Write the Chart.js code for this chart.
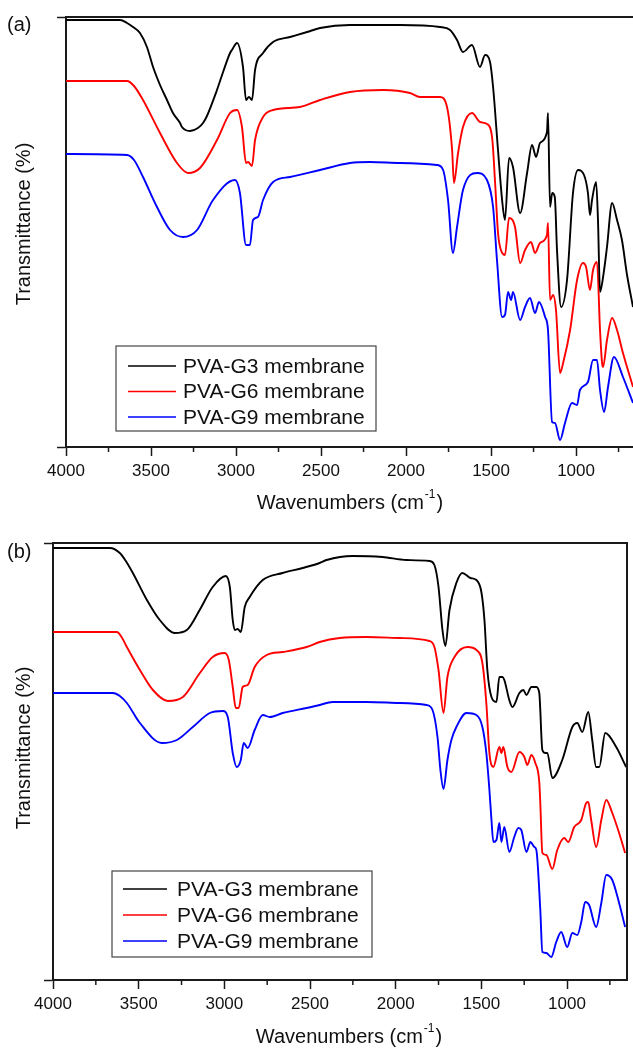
<!DOCTYPE html>
<html><head><meta charset="utf-8">
<script src="https://cdn.jsdelivr.net/npm/chart.js@4"></script>
<style>
html,body{margin:0;padding:0;background:#fff;}
#wrap{position:relative;width:633px;height:1048px;overflow:hidden;}
canvas{position:absolute;left:0;}
</style></head><body>
<div id="wrap">
<canvas id="ca" width="633" height="525" style="top:0px"></canvas>
<canvas id="cb" width="633" height="523" style="top:525px"></canvas>
</div>
<script>
// ---------- data ----------
const seriesNames = ['PVA-G3 membrane', 'PVA-G6 membrane', 'PVA-G9 membrane'];
const seriesColors = ['#000000', '#ff0000', '#0000ff'];
const xTickValues = [4000, 3500, 3000, 2500, 2000, 1500, 1000];
const xMinorTickValues = [3750, 3250, 2750, 2250, 1750, 1250, 750];
const panelLabels = ['(a)', '(b)'];
const yTitle = 'Transmittance (%)';
const xTitleMain = 'Wavenumbers (cm';
const xTitleSup = '-1';
const xTitleEnd = ')';

// panel (a): [wavenumber cm-1, transmittance (a.u.)]
const aG3 = [[4000,427],[3682,427],[3641,424],[3606,420],[3565,414],[3524,400],[3488,380],[3447,362],[3406,347],[3371,334],[3329,324],[3318,320],[3271,316],[3224,319],[3194,324],[3171,331],[3112,357],[3076,375],[3035,394],[3024,397],[2994,404],[2959,380],[2941,347],[2924,350],[2906,347],[2888,377],[2841,394],[2782,405],[2682,410],[2582,415],[2506,419],[2330,422],[2035,422],[1800,420],[1741,417],[1700,407],[1665,395],[1612,402],[1565,380],[1535,392],[1506,385],[1488,360],[1459,297],[1435,247],[1418,227],[1394,289],[1371,280],[1329,234],[1288,274],[1259,302],[1235,290],[1212,304],[1171,315],[1165,334],[1153,240],[1140,254],[1125,250],[1112,197],[1088,140],[1053,167],[1018,254],[988,277],[953,272],[930,254],[918,232],[906,247],[882,265],[871,227],[859,155],[841,170],[818,200],[788,244],[759,227],[730,207],[700,172],[665,140]];
const aG6 = [[4000,366],[3641,366],[3600,361],[3547,347],[3447,314],[3347,284],[3282,274],[3212,279],[3112,307],[3035,334],[2994,337],[2965,320],[2941,284],[2929,285],[2906,281],[2888,307],[2841,330],[2782,337],[2624,340],[2506,347],[2330,355],[2135,357],[1977,354],[1918,350],[1800,350],[1759,340],[1729,297],[1718,264],[1694,294],[1665,320],[1612,334],[1565,325],[1524,323],[1494,310],[1476,264],[1459,214],[1447,200],[1418,192],[1394,229],[1359,220],[1329,184],[1300,197],[1265,205],[1241,194],[1212,204],[1171,212],[1165,224],[1153,147],[1135,152],[1118,137],[1094,74],[1076,84],[1035,117],[994,167],[959,184],[941,180],[918,157],[900,177],[877,185],[859,117],[847,84],[841,80],[818,107],[788,129],[759,117],[724,94],[665,60]];
const aG9 = [[4000,293],[3641,292],[3600,287],[3547,270],[3465,240],[3388,217],[3312,210],[3229,217],[3135,247],[3006,267],[2977,254],[2941,202],[2918,202],[2900,227],[2871,230],[2841,247],[2782,265],[2682,270],[2506,277],[2330,284],[2212,285],[2035,284],[1818,282],[1782,277],[1753,247],[1724,194],[1700,220],[1665,257],[1582,274],[1524,267],[1488,240],[1465,187],[1435,130],[1418,132],[1400,155],[1382,147],[1371,155],[1329,127],[1300,140],[1271,149],[1241,134],[1218,145],[1182,130],[1165,117],[1141,25],[1124,24],[1094,7],[1065,24],[1024,44],[994,42],[977,57],[930,65],[900,87],[877,87],[859,57],[835,35],[812,60],[777,90],[724,70],[665,44]];

// panel (b)
const bG3 = [[4000,432],[3668,432],[3610,427],[3575,419],[3534,407],[3452,380],[3377,360],[3289,347],[3219,350],[3144,370],[3068,393],[2992,404],[2968,393],[2951,360],[2939,350],[2922,351],[2904,348],[2881,373],[2852,383],[2776,400],[2660,407],[2543,412],[2444,417],[2403,420],[2252,424],[2077,423],[1937,420],[1803,419],[1774,415],[1750,393],[1727,350],[1710,334],[1686,370],[1646,397],[1611,407],[1564,402],[1529,400],[1500,388],[1482,360],[1465,310],[1441,283],[1412,278],[1395,303],[1377,303],[1366,300],[1337,280],[1319,273],[1278,287],[1255,290],[1237,285],[1208,293],[1179,293],[1162,287],[1144,230],[1127,227],[1115,227],[1086,202],[1028,220],[969,253],[940,257],[911,248],[876,268],[853,240],[830,213],[812,213],[777,247],[713,233],[655,213]];
const bG6 = [[4000,348],[3627,348],[3600,343],[3569,333],[3493,310],[3417,290],[3330,279],[3242,283],[3143,307],[3068,323],[2998,327],[2974,320],[2951,293],[2933,272],[2916,272],[2893,293],[2864,295],[2823,313],[2753,325],[2660,328],[2520,333],[2444,338],[2327,342],[2170,343],[1978,342],[1803,339],[1774,333],[1750,310],[1721,267],[1698,303],[1657,323],[1581,333],[1529,330],[1494,317],[1471,277],[1453,227],[1430,213],[1395,233],[1383,227],[1372,233],[1348,213],[1325,208],[1278,228],[1249,223],[1232,215],[1208,225],[1185,217],[1162,198],[1156,177],[1144,127],[1121,125],[1086,111],[1057,130],[1016,142],[993,138],[958,153],[917,160],[888,177],[876,178],[859,160],[830,133],[800,160],[771,180],[736,167],[696,147],[661,127]];
const bG9 = [[4000,287],[3650,287],[3610,284],[3569,277],[3493,257],[3365,237],[3277,240],[3184,253],[3085,267],[3009,269],[2980,263],[2951,227],[2928,213],[2904,220],[2887,237],[2864,232],[2823,250],[2776,265],[2735,263],[2660,267],[2520,272],[2444,275],[2368,278],[2170,278],[1978,277],[1820,275],[1785,270],[1756,243],[1739,210],[1721,191],[1698,220],[1675,240],[1646,253],[1587,267],[1529,265],[1494,253],[1471,227],[1453,190],[1441,160],[1430,138],[1412,140],[1395,157],[1383,138],[1366,153],[1337,128],[1308,143],[1284,152],[1267,150],[1237,128],[1214,138],[1191,133],[1179,130],[1156,70],[1144,28],[1121,27],[1092,23],[1063,38],[1034,48],[999,33],[969,47],[940,45],[917,58],[894,78],[871,75],[830,53],[800,77],[771,105],[736,100],[696,77],[661,53]];

// ---------- drawing ----------
const FONT = '"Liberation Sans", Arial, Helvetica, sans-serif';
Chart.defaults.font.family = FONT;
Chart.defaults.color = '#111';

const decor = {
  id: 'decor',
  afterDraw(chart, args, o) {
    const ctx = chart.ctx, ca = chart.chartArea, xs = chart.scales.x;
    ctx.save();
    ctx.strokeStyle = '#1a1a1a';
    ctx.lineWidth = 2;
    ctx.beginPath(); ctx.moveTo(ca.left, ca.top); ctx.lineTo(ca.right, ca.top); ctx.stroke();
    if (o.rightBorder) {
      ctx.beginPath(); ctx.moveTo(ca.right, ca.top - 1); ctx.lineTo(ca.right, ca.bottom + 1); ctx.stroke();
    }
    ctx.lineWidth = 1.5;
    xMinorTickValues.forEach(v => {
      const px = xs.getPixelForValue(v);
      if (px < ca.left || px > ca.right) return;
      ctx.beginPath(); ctx.moveTo(px, ca.bottom); ctx.lineTo(px, ca.bottom + 5); ctx.stroke();
    });
    ctx.fillStyle = '#111';
    ctx.font = '20px ' + FONT;
    ctx.textAlign = 'left'; ctx.textBaseline = 'middle';
    ctx.fillText(o.label, o.labelX, o.labelY);
    // y title
    ctx.save();
    ctx.translate(o.yTitleX, o.yTitleY); ctx.rotate(-Math.PI / 2);
    ctx.textAlign = 'center';
    ctx.fillText(yTitle, 0, 0);
    ctx.restore();
    // x title with superscript
    const fMain = '20px ' + FONT, fSup = '12px ' + FONT;
    ctx.font = fMain; const w1 = ctx.measureText(xTitleMain).width, w3 = ctx.measureText(xTitleEnd).width;
    ctx.font = fSup; const w2 = ctx.measureText(xTitleSup).width;
    let x0 = o.xTitleX - (w1 + w2 + w3 + 2) / 2;
    ctx.textAlign = 'left';
    ctx.font = fMain; ctx.fillText(xTitleMain, x0, o.xTitleY);
    ctx.font = fSup; ctx.fillText(xTitleSup, x0 + w1 + 1, o.xTitleY - 8);
    ctx.font = fMain; ctx.fillText(xTitleEnd, x0 + w1 + w2 + 2, o.xTitleY);
    // legend
    const L = o.legend;
    ctx.strokeStyle = '#444'; ctx.lineWidth = 1.2;
    ctx.strokeRect(L.x, L.y, L.w, L.h);
    ctx.font = '21px ' + FONT;
    seriesNames.forEach((name, i) => {
      const yy = L.y + L.firstRow + i * L.rowGap;
      ctx.strokeStyle = seriesColors[i]; ctx.lineWidth = 1.6;
      ctx.beginPath(); ctx.moveTo(L.x + L.sx0, yy); ctx.lineTo(L.x + L.sx1, yy); ctx.stroke();
      ctx.fillStyle = '#111';
      ctx.fillText(name, L.x + L.tx, yy + 1);
    });
    ctx.restore();
  }
};

function makeChart(id, series, cfg) {
  const datasets = series.map((s, i) => ({
    label: seriesNames[i],
    data: s.map(p => ({ x: p[0], y: p[1] })),
    borderColor: seriesColors[i],
    borderWidth: 1.9,
    pointRadius: 0,
    cubicInterpolationMode: 'monotone',
    fill: false
  }));
  return new Chart(document.getElementById(id), {
    type: 'line',
    data: { datasets },
    options: {
      responsive: false,
      animation: false,
      devicePixelRatio: 1,
      layout: { padding: { top: cfg.top, right: cfg.right, left: 0, bottom: 0 } },
      plugins: { legend: { display: false }, tooltip: { enabled: false }, decor: cfg.decor },
      scales: {
        x: {
          type: 'linear', reverse: true, min: cfg.xMin, max: 4000,
          afterBuildTicks: s => { s.ticks = xTickValues.map(v => ({ value: v })); },
          afterFit: s => { s.height = cfg.xHeight; },
          ticks: { callback: v => String(v), font: { size: 17 }, color: '#111', padding: 5, maxRotation: 0, autoSkip: false },
          grid: { drawOnChartArea: false, drawTicks: true, tickLength: 9, color: '#1a1a1a', tickWidth: 1.5 },
          border: { display: true, color: '#1a1a1a', width: 2 }
        },
        y: {
          type: 'linear', min: 0, max: cfg.yMax,
          afterBuildTicks: s => { s.ticks = [{ value: 0 }, { value: cfg.yMax }]; },
          afterFit: s => { s.width = cfg.yWidth; },
          ticks: { display: false },
          grid: { drawOnChartArea: false, drawTicks: true, tickLength: 9, color: '#1a1a1a', tickWidth: 1.5 },
          border: { display: true, color: '#1a1a1a', width: 2 }
        }
      }
    },
    plugins: [decor]
  });
}

makeChart('ca', [aG3, aG6, aG9], {
  top: 17, right: 0, xMin: 665, yMax: 430, xHeight: 78, yWidth: 66,
  decor: {
    label: panelLabels[0], labelX: 7, labelY: 25, rightBorder: false,
    yTitleX: 24, yTitleY: 224, xTitleX: 350, xTitleY: 503,
    legend: { x: 116, y: 346, w: 260, h: 85, firstRow: 20, rowGap: 25.5, sx0: 12, sx1: 60, tx: 67 }
  }
});
makeChart('cb', [bG3, bG6, bG9], {
  top: 18, right: 6, xMin: 650, yMax: 437, xHeight: 68, yWidth: 53,
  decor: {
    label: panelLabels[1], labelX: 7, labelY: 27, rightBorder: true,
    yTitleX: 24, yTitleY: 223, xTitleX: 349, xTitleY: 512,
    legend: { x: 112, y: 346, w: 260, h: 86, firstRow: 18, rowGap: 26, sx0: 11, sx1: 55, tx: 65 }
  }
});
</script>
</body></html>
